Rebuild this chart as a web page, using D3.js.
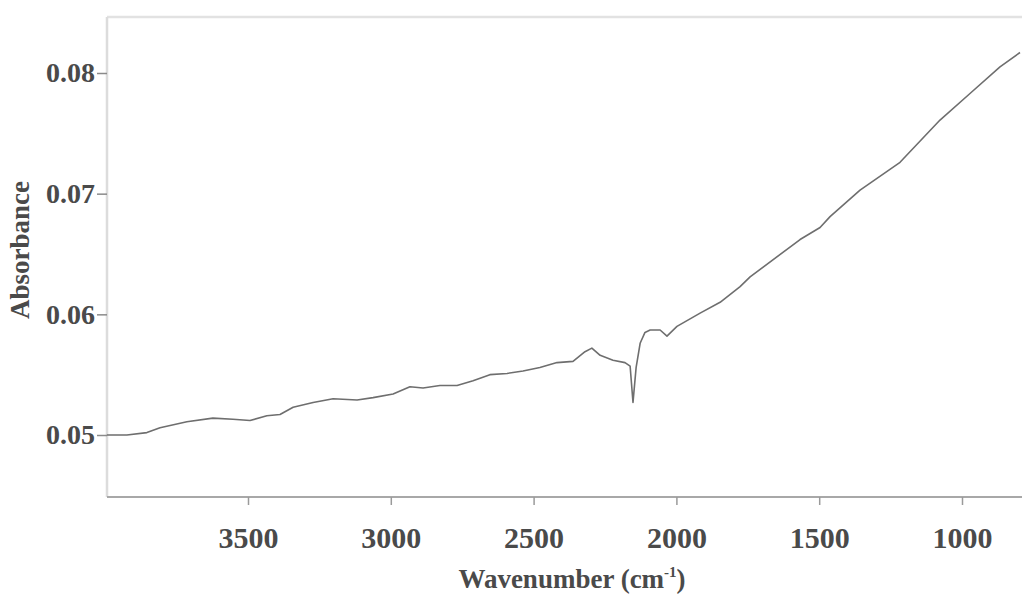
<!DOCTYPE html>
<html>
<head>
<meta charset="utf-8">
<title>Absorbance spectrum</title>
<script src="https://cdn.jsdelivr.net/npm/d3@7"></script>
<style>
    body { margin: 0; background: #fff; }
    svg { display: block; }
    .tick-label { font-family: "Liberation Serif", "Times New Roman", serif; font-weight: bold; fill: #4a4a4a; }
</style>
</head>
<body>
<div id="chart"></div>
<script>
// Spectrum (wavenumber in cm-1, absorbance)
const wavenumbers = [3994, 3924, 3854, 3808, 3714, 3623, 3553, 3493, 3434, 3388, 3342, 3272, 3202,
    3118, 3062, 2992, 2933, 2887, 2828, 2768, 2712, 2653, 2593, 2537, 2478, 2418, 2362, 2320,
    2296, 2267, 2222, 2180, 2162, 2152, 2141, 2127, 2110, 2092, 2057, 2033, 1998, 1917, 1847,
    1777, 1742, 1567, 1497, 1462, 1357, 1217, 1077, 972, 867, 797];
const absorbance = [0.0500, 0.0500, 0.0502, 0.0506, 0.0511, 0.0514, 0.0513, 0.0512, 0.0516, 0.0517,
    0.0523, 0.0527, 0.0530, 0.0529, 0.0531, 0.0534, 0.0540, 0.0539, 0.0541, 0.0541, 0.0545,
    0.0550, 0.0551, 0.0553, 0.0556, 0.0560, 0.0561, 0.0569, 0.0572, 0.0566, 0.0562, 0.0560,
    0.0557, 0.0527, 0.0556, 0.0576, 0.0585, 0.0587, 0.0587, 0.0582, 0.0590, 0.0601, 0.0610,
    0.0623, 0.0631, 0.0662, 0.0672, 0.0681, 0.0703, 0.0726, 0.0761, 0.0783, 0.0805, 0.0817];

// Axis ticks
const xTicks = [3500, 3000, 2500, 2000, 1500, 1000];
const yTicks = [0.05, 0.06, 0.07, 0.08];

const width = 1022;
const height = 599;
const plot = { left: 107, top: 17, right: 1030, bottom: 497 };

const svg = d3.select('#chart')
    .append('svg')
    .attr('width', width)
    .attr('height', height);

// Scales: wavenumber runs high to low
const x = d3.scaleLinear()
    .domain([4000, 1000])
    .range([105.2, 962]);

const y = d3.scaleLinear()
    .domain([0.05, 0.08])
    .range([435, 73]);

// Frame (light top and left edges, darker bottom axis)
svg.append('line')
    .attr('x1', plot.left).attr('x2', plot.right)
    .attr('y1', plot.top).attr('y2', plot.top)
    .attr('stroke', '#e2e2e2').attr('stroke-width', 2.5);

svg.append('line')
    .attr('x1', plot.left).attr('x2', plot.left)
    .attr('y1', plot.top).attr('y2', plot.bottom)
    .attr('stroke', '#dcdcdc').attr('stroke-width', 2.5);

// Bottom axis
const xAxis = d3.axisBottom(x)
    .tickValues(xTicks)
    .tickFormat(d3.format('d'))
    .tickSize(8)
    .tickSizeOuter(0)
    .tickPadding(22);

const gx = svg.append('g')
    .attr('transform', `translate(0,${plot.bottom})`)
    .call(xAxis);

gx.select('.domain')
    .attr('d', `M${plot.left},0H${plot.right}`)
    .attr('stroke', '#a8a8a8')
    .attr('stroke-width', 2);
gx.selectAll('.tick line').attr('stroke', '#9a9a9a').attr('stroke-width', 1.5);
gx.selectAll('.tick text')
    .attr('class', 'tick-label')
    .attr('font-size', 30)
    .attr('fill', '#4a4a4a');

// Left axis: only ticks and labels, frame line drawn above
const yAxis = d3.axisLeft(y)
    .tickValues(yTicks)
    .tickFormat(d3.format('.2f'))
    .tickSize(10)
    .tickSizeOuter(0)
    .tickPadding(2);

const gy = svg.append('g')
    .attr('transform', `translate(${plot.left},0)`)
    .call(yAxis);

gy.select('.domain').remove();
gy.selectAll('.tick line').attr('stroke', '#8a8a8a').attr('stroke-width', 1.5);
gy.selectAll('.tick text')
    .attr('class', 'tick-label')
    .attr('font-size', 28)
    .attr('fill', '#4a4a4a');

// Spectrum line
const points = wavenumbers.map((w, i) => ({ w: w, a: absorbance[i] }));

const line = d3.line()
    .x(d => x(d.w))
    .y(d => y(d.a));

svg.append('path')
    .datum(points)
    .attr('fill', 'none')
    .attr('stroke', '#6e6e6e')
    .attr('stroke-width', 1.6)
    .attr('stroke-linejoin', 'round')
    .attr('d', line);

// Axis titles
const xTitle = svg.append('text')
    .attr('class', 'tick-label')
    .attr('x', 572)
    .attr('y', 588)
    .attr('text-anchor', 'middle')
    .attr('font-size', 27);
xTitle.append('tspan').text('Wavenumber (cm');
xTitle.append('tspan').attr('font-size', 15).attr('dy', -11).text('-1');
xTitle.append('tspan').attr('dy', 11).text(')');

svg.append('text')
    .attr('class', 'tick-label')
    .attr('transform', 'translate(29,250) rotate(-90)')
    .attr('text-anchor', 'middle')
    .attr('font-size', 27)
    .text('Absorbance');
</script>
</body>
</html>
